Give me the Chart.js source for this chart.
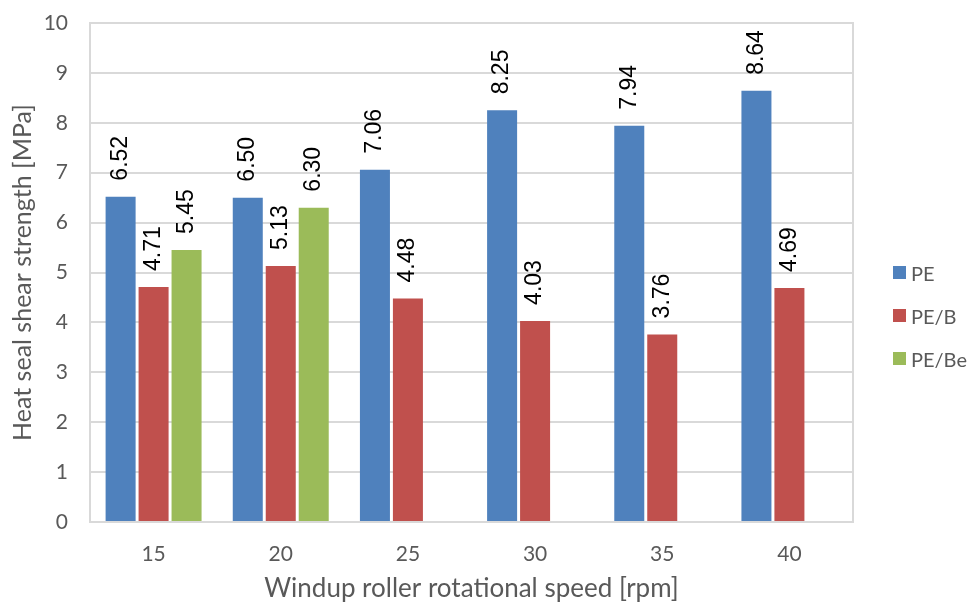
<!DOCTYPE html>
<html>
<head>
<meta charset="utf-8">
<script src="https://cdn.jsdelivr.net/npm/chart.js@4"></script>
<style>
    html, body { margin: 0; padding: 0; background: #fff; }
    #wrap { position: relative; width: 969px; height: 604px; }
    #legend { position: absolute; left: 893px; top: 251px; font-family: Lato, sans-serif; font-size: 20px; color: #595959; }
    .legend-item { display: flex; align-items: center; height: 43px; }
    .legend-color { width: 13px; height: 13px; margin-right: 5px; }
</style>
</head>
<body>
<div id="wrap">
    <canvas id="chart" width="969" height="604"></canvas>
    <div id="legend"></div>
</div>
<script>
const speeds = ['15', '20', '25', '30', '35', '40'];
const pe   = [6.52, 6.50, 7.06, 8.25, 7.94, 8.64];
const peB  = [4.71, 5.13, 4.48, 4.03, 3.76, 4.69];
const peBe = [5.45, 6.30, null, null, null, null];
const seriesNames = ['PE', 'PE/B', 'PE/Be'];
const colors = ['#4F81BD', '#C0504D', '#9BBB59'];

// popisky hodnot nad sloupci (otočené o 90°)
const valueLabels = {
    id: 'valueLabels',
    afterDatasetsDraw(chart) {
        const ctx = chart.ctx;
        ctx.save();
        ctx.font = '23px "Liberation Sans", Arial, sans-serif';
        ctx.fillStyle = '#000';
        ctx.textAlign = 'left';
        ctx.textBaseline = 'middle';
        chart.data.datasets.forEach((ds, i) => {
            chart.getDatasetMeta(i).data.forEach((bar, j) => {
                const v = ds.data[j];
                if (v === null) return;
                ctx.save();
                ctx.translate(bar.x, bar.y - 16);
                ctx.rotate(-Math.PI / 2);
                ctx.fillText(v.toFixed(2), 0, 0);
                ctx.restore();
            });
        });
        ctx.restore();
    }
};

// rámeček kolem plochy grafu
const plotFrame = {
    id: 'plotFrame',
    beforeDatasetsDraw(chart) {
        const a = chart.chartArea;
        const ctx = chart.ctx;
        ctx.save();
        ctx.strokeStyle = '#d9d9d9';
        ctx.lineWidth = 2;
        ctx.strokeRect(a.left, a.top, a.right - a.left, a.bottom - a.top);
        ctx.restore();
    }
};

const ctx = document.getElementById('chart').getContext('2d');
new Chart(ctx, {
    type: 'bar',
    data: {
        labels: speeds,
        datasets: [pe, peB, peBe].map((d, i) => ({
            label: seriesNames[i],
            data: d,
            backgroundColor: colors[i],
            borderWidth: 0,
            categoryPercentage: 0.778,
            barPercentage: 0.91
        }))
    },
    options: {
        responsive: false,
        animation: false,
        layout: { padding: { top: 23, right: 116, left: 0, bottom: 0 } },
        plugins: {
            legend: { display: false },
            tooltip: { enabled: false }
        },
        scales: {
            x: {
                grid: { display: false, drawTicks: false },
                border: { display: false },
                ticks: { color: '#595959', font: { family: 'Lato', size: 21 }, padding: 20 },
                title: {
                    display: true,
                    text: 'Windup roller rotational speed [rpm]',
                    color: '#595959',
                    font: { family: 'Lato', size: 26 },
                    padding: { top: 0, bottom: 0 }
                },
                afterFit: s => { s.height = 82; }
            },
            y: {
                min: 0,
                max: 10,
                // odsazení popisků přes neviditelné značky, ať se nezvětší horní okraj
                ticks: { stepSize: 1, color: '#595959', font: { family: 'Lato', size: 21 }, padding: 0 },
                grid: { color: '#d9d9d9', lineWidth: 2, drawTicks: true, tickLength: 22, tickColor: 'rgba(0,0,0,0)' },
                border: { display: false },
                title: {
                    display: true,
                    text: 'Heat seal shear strength [MPa]',
                    color: '#595959',
                    font: { family: 'Lato', size: 25 },
                    padding: { top: 8, bottom: 0 }
                },
                afterFit: s => { s.width = 90; }
            }
        }
    },
    plugins: [plotFrame, valueLabels]
});

// vlastní legenda
const legendContainer = document.getElementById('legend');
seriesNames.forEach((name, i) => {
    const item = document.createElement('div');
    item.className = 'legend-item';
    const box = document.createElement('div');
    box.className = 'legend-color';
    box.style.backgroundColor = colors[i];
    item.appendChild(box);
    item.appendChild(document.createTextNode(name));
    legendContainer.appendChild(item);
});
</script>
</body>
</html>
